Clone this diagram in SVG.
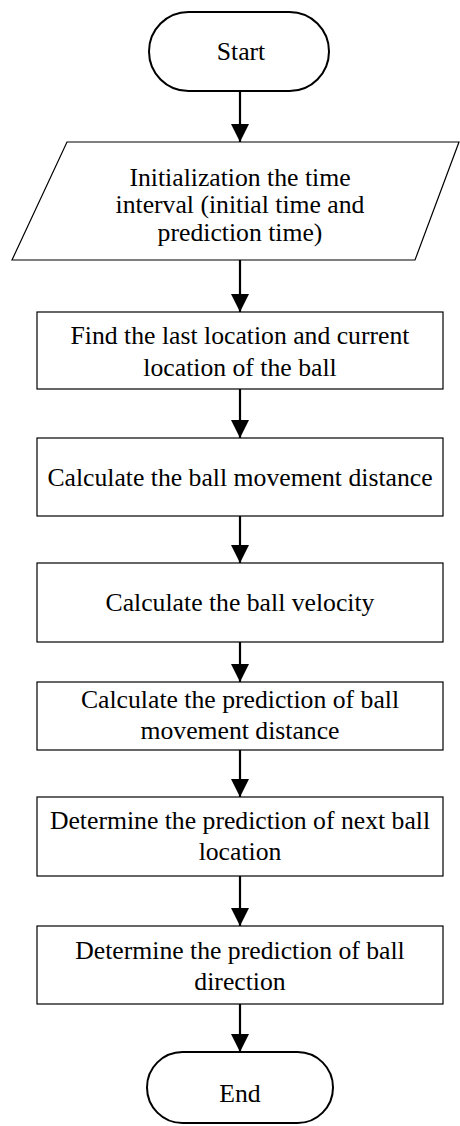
<svg xmlns="http://www.w3.org/2000/svg" width="460" height="1126" viewBox="0 0 460 1126">
<defs>
<style>
.t{font-family:"Liberation Serif","Times New Roman",serif;font-size:25.7px;fill:#000;text-anchor:middle}
.term{fill:#fff;stroke:#000;stroke-width:2}
.box{fill:#fff;stroke:#000;stroke-width:1.2}
.c{stroke:#000;stroke-width:2.2;fill:none}
</style>
<marker id="ah" markerUnits="userSpaceOnUse" markerWidth="18" markerHeight="18" refX="18" refY="9" orient="auto" viewBox="0 0 18 18">
<path d="M0,0 L18,9 L0,18 Z" fill="#000"/>
</marker>
</defs>
<rect width="460" height="1126" fill="#fff"/>
<g id="connectors">
<line class="c" x1="240" y1="91" x2="240" y2="142" marker-end="url(#ah)"/>
<line class="c" x1="240" y1="260" x2="240" y2="312" marker-end="url(#ah)"/>
<line class="c" x1="240" y1="389" x2="240" y2="438" marker-end="url(#ah)"/>
<line class="c" x1="240" y1="516" x2="240" y2="563" marker-end="url(#ah)"/>
<line class="c" x1="240" y1="642" x2="240" y2="682" marker-end="url(#ah)"/>
<line class="c" x1="240" y1="750" x2="240" y2="797" marker-end="url(#ah)"/>
<line class="c" x1="240" y1="876" x2="240" y2="926" marker-end="url(#ah)"/>
<line class="c" x1="240" y1="1004" x2="240" y2="1052" marker-end="url(#ah)"/>
</g>
<g id="start">
<rect class="term" x="149" y="12" width="180" height="79" rx="39.5" ry="39.5"/>
<text class="t" x="241" y="60">Start</text>
</g>
<g id="init">
<polygon class="box" points="67,142 459,142 415,260 12,260"/>
<text class="t" x="240" y="186">Initialization the time</text>
<text class="t" x="240" y="213">interval (initial time and</text>
<text class="t" x="240" y="241">prediction time)</text>
</g>
<g id="find">
<rect class="box" x="37" y="312" width="406" height="77"/>
<text class="t" x="240" y="344">Find the last location and current</text>
<text class="t" x="240" y="376">location of the ball</text>
</g>
<g id="distance">
<rect class="box" x="37" y="438" width="406" height="78"/>
<text class="t" x="240" y="486">Calculate the ball movement distance</text>
</g>
<g id="velocity">
<rect class="box" x="37" y="563" width="406" height="79"/>
<text class="t" x="240" y="611">Calculate the ball velocity</text>
</g>
<g id="predDistance">
<rect class="box" x="37" y="682" width="406" height="68"/>
<text class="t" x="240" y="708">Calculate the prediction of ball</text>
<text class="t" x="240" y="739">movement distance</text>
</g>
<g id="nextLocation">
<rect class="box" x="37" y="797" width="406" height="79"/>
<text class="t" x="240" y="829">Determine the prediction of next ball</text>
<text class="t" x="240" y="860">location</text>
</g>
<g id="direction">
<rect class="box" x="37" y="926" width="406" height="78"/>
<text class="t" x="240" y="959">Determine the prediction of ball</text>
<text class="t" x="240" y="990">direction</text>
</g>
<g id="end">
<rect class="term" x="147" y="1052" width="186" height="71" rx="35.5" ry="35.5"/>
<text class="t" x="240" y="1102">End</text>
</g>
</svg>
